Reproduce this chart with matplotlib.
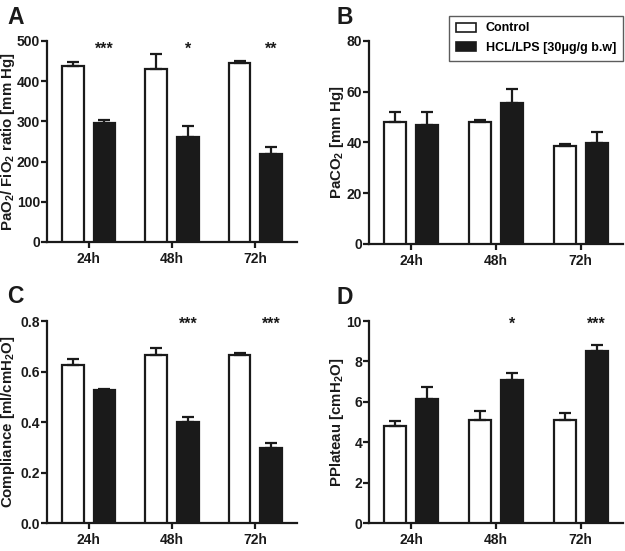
import numpy as np
import matplotlib
matplotlib.use("Agg")
import matplotlib.pyplot as plt
from matplotlib.patches import Patch

FONT = "Liberation Sans"
plt.rcParams['font.family'] = [FONT, 'DejaVu Sans']
plt.rcParams['font.weight'] = 'bold'
plt.rcParams['mathtext.fontset'] = 'custom'
plt.rcParams['mathtext.rm'] = FONT + ':bold'
plt.rcParams['mathtext.bf'] = FONT + ':bold'
plt.rcParams['mathtext.default'] = 'bf'

times = ["24h", "48h", "72h"]

# panel A: PaO2/FiO2 ratio
a_ctrl = [438, 430, 445]
a_ctrl_err = [9, 37, 5]
a_lps = [297, 262, 219]
a_lps_err = [7, 27, 18]
a_stars = ["***", "*", "**"]

# panel B: PaCO2
b_ctrl = [48.2, 48.2, 38.7]
b_ctrl_err = [3.8, 0.6, 0.6]
b_lps = [46.8, 55.6, 39.9]
b_lps_err = [5.2, 5.6, 4.1]
b_stars = ["", "", ""]

# panel C: compliance
c_ctrl = [0.626, 0.666, 0.666]
c_ctrl_err = [0.024, 0.026, 0.007]
c_lps = [0.527, 0.402, 0.299]
c_lps_err = [0.004, 0.017, 0.017]
c_stars = ["", "***", "***"]

# panel D: PPlateau
d_ctrl = [4.79, 5.12, 5.12]
d_ctrl_err = [0.24, 0.41, 0.33]
d_lps = [6.14, 7.06, 8.54]
d_lps_err = [0.59, 0.36, 0.27]
d_stars = ["", "*", "***"]

fig = plt.figure(figsize=(6.25, 5.51), dpi=100)

panels = [
    ("A", [0.0752, 0.5608, 0.400, 0.3648], a_ctrl, a_ctrl_err, a_lps, a_lps_err, a_stars,
     500, 100, "PaO$_2$/ FiO$_2$ ratio [mm Hg]", "{:.0f}", -0.118, 0.96),
    ("B", [0.5904, 0.5572, 0.4064, 0.3684], b_ctrl, b_ctrl_err, b_lps, b_lps_err, b_stars,
     80, 20, "PaCO$_2$ [mm Hg]", "{:.0f}", -0.09, 0.96),
    ("C", [0.0752, 0.0508, 0.400, 0.3666], c_ctrl, c_ctrl_err, c_lps, c_lps_err, c_stars,
     0.8, 0.2, "Compliance [ml/cmH$_2$O]", "{:.1f}", -0.118, 0.985),
    ("D", [0.5904, 0.0508, 0.4064, 0.3666], d_ctrl, d_ctrl_err, d_lps, d_lps_err, d_stars,
     10, 2, "PPlateau [cmH$_2$O]", "{:.0f}", -0.09, 0.985),
]
letter_pos = {"A": (7, 6), "B": (336, 6), "C": (7, 285), "D": (337, 286)}

x = np.arange(len(times))
w = 0.26
off = 0.19
lw = 1.6
ink = "#1a1a1a"

for (letter, rect, ctrl, cerr, lps, lerr, stars, ymax, ystep, ylabel, fmt,
     lx, sy) in panels:
    ax = fig.add_axes(rect)
    ax.bar(x - off, ctrl, w, color="white", edgecolor=ink, linewidth=lw,
           yerr=[np.zeros(3), cerr], error_kw=dict(ecolor=ink, elinewidth=lw,
                                                   capsize=4, capthick=lw), zorder=3)
    ax.bar(x + off, lps, w, color=ink, edgecolor=ink, linewidth=lw,
           yerr=[np.zeros(3), lerr], error_kw=dict(ecolor=ink, elinewidth=lw,
                                                   capsize=4, capthick=lw), zorder=2)
    for i, s in enumerate(stars):
        if s:
            ax.text(x[i] + off, ymax * sy, s, ha="center", va="center",
                    fontsize=11.5, fontweight="bold", color=ink)
    ax.set_xlim(-0.5, 2.5)
    ax.set_ylim(0, ymax)
    ticks = np.arange(0, ymax + ystep / 2, ystep)
    ax.set_yticks(ticks)
    ax.set_yticklabels([fmt.format(t) for t in ticks])
    ax.set_xticks(x)
    ax.set_xticklabels(times)
    for sp in ["top", "right"]:
        ax.spines[sp].set_visible(False)
    for sp in ["left", "bottom"]:
        ax.spines[sp].set_linewidth(lw)
        ax.spines[sp].set_color(ink)
    ax.tick_params(axis="both", width=lw, length=4, labelsize=10, colors=ink, pad=1)
    ax.tick_params(axis="x", pad=3)
    ax.set_ylabel(ylabel, fontsize=10.8, fontweight="bold", color=ink)
    ax.yaxis.set_label_coords(lx, 0.5)
    lpx, lpy = letter_pos[letter]
    fig.text(lpx / 625, 1 - lpy / 551, letter, fontsize=16.5,
             fontweight="bold", ha="left", va="top", color=ink)
    if letter == "B":
        handles = [Patch(facecolor="white", edgecolor=ink, linewidth=1.2),
                   Patch(facecolor=ink, edgecolor=ink, linewidth=1.2)]
        leg = ax.legend(handles, ["Control", "HCL/LPS [30\u03bcg/g b.w]"],
                        loc="upper right", bbox_to_anchor=(1.0, 1.125),
                        borderaxespad=0, frameon=True, fancybox=False, fontsize=9,
                        handlelength=1.6, handleheight=0.75, borderpad=0.55,
                        labelspacing=0.6, handletextpad=0.8)
        leg.get_frame().set_edgecolor("#333333")
        leg.get_frame().set_linewidth(1.0)

fig.savefig("out.png", dpi=100)
